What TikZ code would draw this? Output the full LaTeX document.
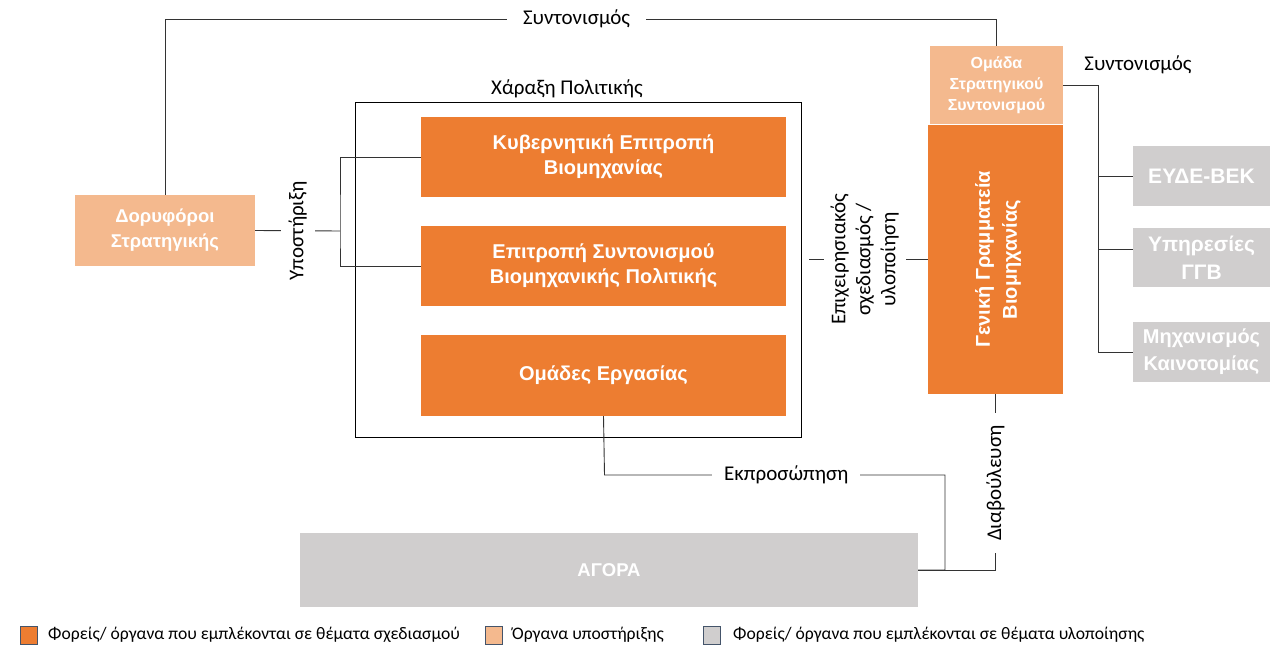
\documentclass[tikz,border=0pt]{standalone}
\usepackage{fontspec}
\setmainfont{Carlito}
\newfontfamily\boxfont{Liberation Sans}
\definecolor{orgA}{HTML}{ED7D31}
\definecolor{orgB}{HTML}{F4B98E}
\definecolor{grayA}{HTML}{D0CECE}
\definecolor{legline}{HTML}{44546A}
\definecolor{lineC}{HTML}{333333}
\tikzset{
  boxbase/.style={inner sep=0pt, align=center, text=white, font=\boxfont\bfseries\fontsize{20}{25}\selectfont},
  darkbox/.style={boxbase, fill=orgA},
  lightbox/.style={boxbase, fill=orgB, font=\boxfont\bfseries\fontsize{18.5}{25}\selectfont},
  graybox/.style={boxbase, fill=grayA, font=\boxfont\bfseries\fontsize{21}{28}\selectfont},
  conn/.style={draw=lineC, line width=0.9pt},
  lbl/.style={font=\fontsize{21}{25}\selectfont, text=black, inner sep=0pt},
  gaplbl/.style={lbl, fill=white, inner xsep=12pt, inner ysep=2pt},
  legsq/.style={draw=legline, line width=0.6pt, minimum width=17pt, minimum height=18pt, inner sep=0pt},
  legtxt/.style={font=\fontsize{17.6}{20}\selectfont, anchor=west, inner sep=0pt},
}
\begin{document}
\begin{tikzpicture}[x=1pt,y=-1pt]
\useasboundingbox[fill=white] (0,0) rectangle (1274,647);

% frame
\node[draw=black, line width=0.9pt, minimum width=446pt, minimum height=335pt, inner sep=0pt] (frame) at (578,269.5) {};
\node[lbl] (frlbl) at (567,89) {Χάραξη Πολιτικής};

% boxes
\node[lightbox, minimum width=180pt, minimum height=71pt] (dor) at (165,230.5) {Δορυφόροι\\Στρατηγικής};
\node[darkbox, minimum width=365pt, minimum height=80pt] (kyv) at (603.5,157) {Κυβερνητική Επιτροπή\\Βιομηχανίας};
\node[darkbox, minimum width=365pt, minimum height=80pt] (esy) at (603.5,266) {Επιτροπή Συντονισμού\\Βιομηχανικής Πολιτικής};
\node[darkbox, minimum width=365pt, minimum height=81pt] (omd) at (603.5,375.5) {Ομάδες Εργασίας};
\node[graybox, minimum width=618pt, minimum height=74pt, font=\boxfont\bfseries\fontsize{18.5}{22}\selectfont] (agora) at (609,570) {ΑΓΟΡΑ};
\node[darkbox, minimum width=135pt, minimum height=269pt] (ggb) at (995.5,259.5) {};
\node[boxbase, rotate=90, font=\boxfont\bfseries\fontsize{20}{27}\selectfont] (ggbt) at (998,259.5) {Γενική Γραμματεία\\Βιομηχανίας};
\node[lightbox, minimum width=133pt, minimum height=78pt, font=\boxfont\bfseries\fontsize{16}{21}\selectfont] (oss) at (996.5,85) {Ομάδα\\Στρατηγικού\\Συντονισμού};
\node[graybox, minimum width=137pt, minimum height=60pt] (eyde) at (1201.5,176) {ΕΥΔΕ-ΒΕΚ};
\node[graybox, minimum width=137pt, minimum height=59pt] (ypir) at (1201.5,257.5) {Υπηρεσίες\\ΓΓΒ};
\node[graybox, minimum width=137pt, minimum height=60pt, font=\boxfont\bfseries\fontsize{20}{27}\selectfont] (mix) at (1201.5,352) {Μηχανισμός\\Καινοτομίας};

% top coordination line
\coordinate (t1) at (165,19);
\coordinate (t2) at (996.5,19);
\draw[conn] (dor.north) -- (t1) -- node[gaplbl, pos=0.495, inner xsep=16pt] {Συντονισμός} (t2) -- (oss.north);

% support
\coordinate (br) at (340,231);
\draw[conn] (dor.east) -- node[gaplbl, rotate=90, inner xsep=2pt, inner ysep=8pt, pos=0.5] {Υποστήριξη} (br);
\draw[conn] (kyv.west) -| (br) |- (esy.west);

% representation
\coordinate (ek1) at (604.5,475);
\coordinate (ek2) at (945,475);
\draw[conn] (omd.south) -- (ek1) -- node[gaplbl, pos=0.534, inner xsep=12pt] {Εκπροσώπηση} (ek2) |- (agora.east);

% consultation
\draw[conn] (ggb.south) -- node[gaplbl, rotate=90, pos=0.506, inner xsep=12pt, inner ysep=6pt] {Διαβούλευση} (ggb.south |- agora.east) -- (agora.east);

% operational planning
\draw[conn, shorten <=8pt] (frame.east |- ggb.west) -- node[gaplbl, rotate=90, align=center, pos=0.5, inner xsep=2pt, inner ysep=7pt] {Επιχειρησιακός\\σχεδιασμός /\\υλοποίηση} (ggb.west);

% right tree
\coordinate (tj) at (1098.5,85);
\coordinate (yb) at (1133,249);
\draw[conn] (oss.east) -- (tj) |- (mix.west);
\draw[conn] (tj |- eyde.west) -- (eyde.west);
\draw[conn] (tj |- yb) -- (yb);
\node[lbl] (rsyn) at (1138,65) {Συντονισμός};

% legend
\node[legsq, fill=orgA] (lg1) at (28.5,635) {};
\node[legtxt] (lt1) at (48,635) {Φορείς/ όργανα που εμπλέκονται σε θέματα σχεδιασμού};
\node[legsq, fill=orgB] (lg2) at (493.5,635) {};
\node[legtxt] (lt2) at (512,635) {Όργανα υποστήριξης};
\node[legsq, fill=grayA] (lg3) at (711.5,635) {};
\node[legtxt] (lt3) at (733,635) {Φορείς/ όργανα που εμπλέκονται σε θέματα υλοποίησης};
\end{tikzpicture}
\end{document}
